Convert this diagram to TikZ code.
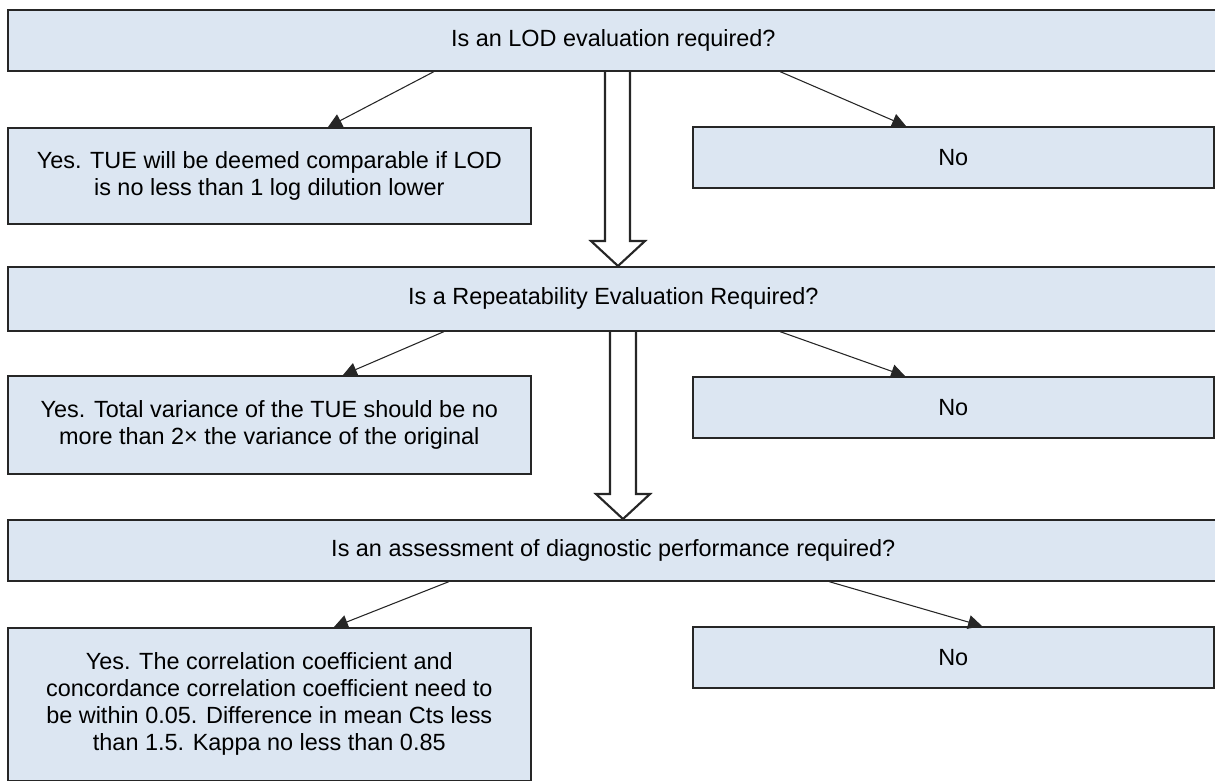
\documentclass[tikz,border=0pt]{standalone}
\usepackage{fontspec}
\setmainfont{Liberation Sans}
\usetikzlibrary{arrows.meta}
\definecolor{boxblue}{HTML}{DCE6F2}
\newcommand{\pxu}{0.0165cm}

\begin{document}
\begin{tikzpicture}
        [x=\pxu, y=-\pxu,
         box/.style={draw=black!85, fill=boxblue, line width=0.75pt, anchor=north west,
                     inner sep=0pt, align=center, font=\fontsize{11}{12.65}\selectfont},
         link/.style={-{Triangle[length=6.5pt,width=6.5pt]}, draw=black!85, line width=0.5pt},
         hollow/.style={draw=black!85, line width=1pt, line join=miter}]
        \useasboundingbox (0,0) rectangle (1215,780);

        % questions
        \node[box, minimum width=1211*\pxu, minimum height=61*\pxu] (q1) at (7,9) {Is an LOD evaluation required?};
        \node[box, minimum width=1211*\pxu, minimum height=64*\pxu] (q2) at (7,266) {Is a Repeatability Evaluation Required?};
        \node[box, minimum width=1211*\pxu, minimum height=61*\pxu] (q3) at (7,519) {Is an assessment of diagnostic performance required?};

        % answers
        \node[box, minimum width=523*\pxu, minimum height=96*\pxu] (yes1) at (7,127) {Yes. TUE will be deemed comparable if LOD\\is no less than 1 log dilution lower};
        \node[box, minimum width=521*\pxu, minimum height=61*\pxu] (no1) at (692,126) {No};
        \node[box, minimum width=523*\pxu, minimum height=98*\pxu] (yes2) at (7,375) {Yes. Total variance of the TUE should be no\\more than 2× the variance of the original};
        \node[box, minimum width=521*\pxu, minimum height=61*\pxu] (no2) at (692,376) {No};
        \node[box, minimum width=523*\pxu, minimum height=153*\pxu] (yes3) at (7,627) {Yes. The correlation coefficient and\\concordance correlation coefficient need to\\be within 0.05. Difference in mean Cts less\\than 1.5. Kappa no less than 0.85};
        \node[box, minimum width=521*\pxu, minimum height=61*\pxu] (no3) at (692,626) {No};

        % big arrows down
        \draw[hollow] ([shift={(598,0)}]q1.south west) -- ([shift={(598,-25)}]q2.north west) -- ([shift={(584,-25)}]q2.north west)
            -- ([shift={(611,0)}]q2.north west) -- ([shift={(638,-25)}]q2.north west) -- ([shift={(623,-25)}]q2.north west) -- ([shift={(623,0)}]q1.south west);
        \draw[hollow] ([shift={(603,0)}]q2.south west) -- ([shift={(603,-25)}]q3.north west) -- ([shift={(589,-25)}]q3.north west)
            -- ([shift={(616,0)}]q3.north west) -- ([shift={(643,-25)}]q3.north west) -- ([shift={(629,-25)}]q3.north west) -- ([shift={(629,0)}]q2.south west);

        % yes / no links
        \draw[link] ([shift={(427,0)}]q1.south west) -- ([shift={(321,0)}]yes1.north west);
        \draw[link] ([shift={(773,0)}]q1.south west) -- ([shift={(214,0)}]no1.north west);
        \draw[link] ([shift={(437,0)}]q2.south west) -- ([shift={(336,0)}]yes2.north west);
        \draw[link] ([shift={(773,0)}]q2.south west) -- ([shift={(213,0)}]no2.north west);
        \draw[link] ([shift={(442,0)}]q3.south west) -- ([shift={(327,0)}]yes3.north west);
        \draw[link] ([shift={(822,0)}]q3.south west) -- ([shift={(290,0)}]no3.north west);
\end{tikzpicture}
\end{document}
